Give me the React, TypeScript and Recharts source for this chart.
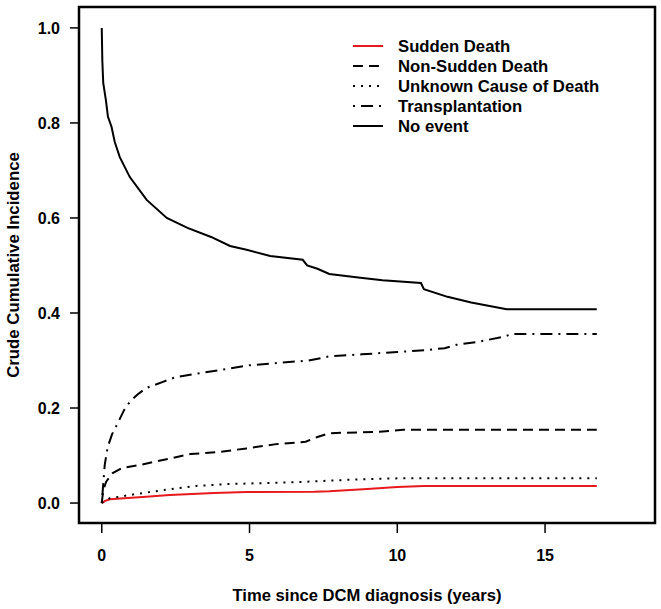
import { LineChart, Line, XAxis, YAxis, ReferenceArea, Label, Customized } from "recharts";

document.body.style.margin = "0";

const FONT = "'Liberation Sans', Arial, sans-serif";

// time (years) and crude cumulative incidence
const noEventT = [0, 0.02, 0.05, 0.14, 0.21, 0.33, 0.44, 0.61, 0.95, 1.52, 2.2, 2.9, 3.7, 4.34, 4.9, 5.7, 6.8, 6.95, 7.3, 7.7, 8.75, 9.5, 10.8, 10.9, 11.7, 12.5, 13.7, 16.75];
const noEventV = [1.0, 0.93, 0.884, 0.848, 0.813, 0.792, 0.76, 0.728, 0.686, 0.638, 0.6, 0.579, 0.56, 0.541, 0.533, 0.52, 0.512, 0.5, 0.493, 0.482, 0.474, 0.469, 0.463, 0.45, 0.434, 0.422, 0.408, 0.408];

const transplantT = [0, 0.05, 0.1, 0.2, 0.35, 0.54, 0.75, 0.95, 1.2, 1.5, 2.07, 2.5, 3.2, 4.0, 5.0, 6.0, 7.0, 7.73, 8.8, 10.0, 11.0, 11.6, 12.0, 12.7, 13.6, 13.9, 16.75];
const transplantV = [0, 0.04, 0.08, 0.118, 0.145, 0.168, 0.195, 0.213, 0.228, 0.242, 0.255, 0.265, 0.272, 0.28, 0.29, 0.295, 0.3, 0.309, 0.313, 0.318, 0.322, 0.326, 0.333, 0.339, 0.35, 0.356, 0.356];

const nonSuddenT = [0, 0.05, 0.15, 0.37, 0.7, 1.29, 1.86, 2.4, 3.0, 3.9, 4.9, 5.9, 6.9, 7.3, 7.7, 9.4, 10.2, 16.75];
const nonSuddenV = [0, 0.027, 0.045, 0.063, 0.074, 0.08, 0.088, 0.095, 0.103, 0.107, 0.115, 0.124, 0.129, 0.139, 0.147, 0.15, 0.154, 0.154];

const unknownT = [0, 0.1, 0.27, 0.95, 2.07, 3.2, 4.3, 6.6, 8.75, 10.0, 16.75];
const unknownV = [0, 0.005, 0.01, 0.017, 0.027, 0.036, 0.04, 0.044, 0.05, 0.052, 0.052];

const suddenT = [0, 0.1, 0.27, 1.5, 2.3, 3.8, 4.9, 7.2, 7.7, 8.85, 10.0, 10.9, 16.75];
const suddenV = [0, 0.004, 0.008, 0.013, 0.017, 0.021, 0.023, 0.024, 0.025, 0.029, 0.034, 0.036, 0.036];

const xTicks = [0, 5, 10, 15];
const yTicks = [0, 0.2, 0.4, 0.6, 0.8, 1.0];

const toPoints = (t: number[], v: number[]) => t.map((x, i) => ({ t: x, v: v[i] }));

const SERIES = [
  { name: "Sudden Death", data: toPoints(suddenT, suddenV), color: "#e8191c", dash: undefined },
  { name: "Non-Sudden Death", data: toPoints(nonSuddenT, nonSuddenV), color: "#000", dash: "10 6" },
  { name: "Unknown Cause of Death", data: toPoints(unknownT, unknownV), color: "#000", dash: "2 6" },
  { name: "Transplantation", data: toPoints(transplantT, transplantV), color: "#000", dash: "2 6 12 6" },
  { name: "No event", data: toPoints(noEventT, noEventV), color: "#000", dash: undefined },
];

const LegendBox = () => (
  <g transform="translate(353, 46)">
    {SERIES.map((s, i) => (
      <g key={s.name}>
        <line x1={0} x2={30} y1={i * 20} y2={i * 20} stroke={s.color} strokeWidth={2} strokeDasharray={s.dash} />
        <text x={45} y={i * 20} dy="0.36em" fontSize={16.7} fontWeight="bold" fontFamily={FONT} fill="#000">
          {s.name}
        </text>
      </g>
    ))}
  </g>
);

export default function App() {
  return (
    <div style={{ width: 661, height: 609, background: "#fff" }}>
      <LineChart width={661} height={609} margin={{ top: 7, right: 6, left: 0, bottom: 0 }}>
        <XAxis
          type="number"
          dataKey="t"
          domain={[-0.77, 18.72]}
          ticks={xTicks}
          allowDataOverflow
          axisLine={false}
          tickSize={10}
          tickMargin={17}
          height={86}
          tick={{ fill: "#000", fontSize: 16, fontWeight: "bold", fontFamily: FONT }}
          tickLine={{ stroke: "#000", strokeWidth: 1.5 }}
        >
          <Label value="Time since DCM diagnosis (years)" position="insideBottom" offset={8} fill="#000" fontSize={16.6} fontWeight="bold" fontFamily={FONT} />
        </XAxis>
        <YAxis
          type="number"
          dataKey="v"
          domain={[-0.042, 1.044]}
          ticks={yTicks}
          allowDataOverflow
          axisLine={false}
          width={79}
          tickSize={9}
          tickMargin={10}
          tickFormatter={(v: number) => v.toFixed(1)}
          tick={{ fill: "#000", fontSize: 16, fontWeight: "bold", fontFamily: FONT }}
          tickLine={{ stroke: "#000", strokeWidth: 1.5 }}
        >
          <Label value="Crude Cumulative Incidence" angle={-90} position="insideLeft" offset={13} style={{ textAnchor: "middle" }} fill="#000" fontSize={16.8} fontWeight="bold" fontFamily={FONT} />
        </YAxis>
        <ReferenceArea x1={-0.77} x2={18.72} y1={-0.042} y2={1.044} fill="none" stroke="#000" strokeWidth={2.5} />
        {SERIES.map((s) => (
          <Line
            key={s.name}
            data={s.data}
            dataKey="v"
            type="linear"
            stroke={s.color}
            strokeWidth={2}
            strokeDasharray={s.dash}
            dot={false}
            isAnimationActive={false}
          />
        ))}
        <Customized component={LegendBox} />
      </LineChart>
    </div>
  );
}
